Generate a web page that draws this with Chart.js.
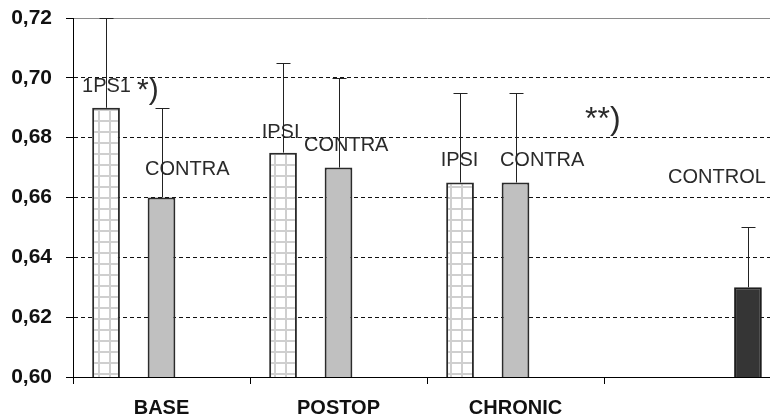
<!DOCTYPE html>
<html>
<head>
<meta charset="utf-8">
<script src="https://cdn.jsdelivr.net/npm/chart.js@4/dist/chart.umd.min.js"></script>
<style>
  html, body { margin: 0; padding: 0; background: #fff; overflow: hidden; width: 770px; height: 419px; }
  #wrap { position: relative; width: 781px; height: 419px; }
</style>
</head>
<body>
<div id="wrap"><canvas id="c"></canvas></div>
<script>
// Group means with their upper error (SD) per measurement period
const categories  = ['BASE', 'POSTOP', 'CHRONIC', ''];
const ipsiMean    = [0.69, 0.675, 0.665, null];
const ipsiSD      = [0.03, 0.03, 0.03, null];
const contraMean  = [0.66, 0.67, 0.665, null];
const contraSD    = [0.03, 0.03, 0.03, null];
const controlMean = [null, null, null, 0.63];
const controlSD   = [null, null, null, 0.02];

// Value axis
const yMin = 0.60;
const yMax = 0.72;
const yStep = 0.02;

// Free text notes, placed in axis units (category index, value) at the text baseline
const notes = [
  { text: '1PS1',    x: -0.449, y: 0.6953, size: 20 },
  { text: '*)',      x: -0.138, y: 0.6929, size: 30 },
  { text: 'CONTRA',  x: -0.093, y: 0.6675, size: 20 },
  { text: 'IPSI',    x:  0.566, y: 0.6799, size: 20 },
  { text: 'CONTRA',  x:  0.805, y: 0.6755, size: 20 },
  { text: 'IPSI',    x:  1.577, y: 0.6704, size: 20 },
  { text: 'CONTRA',  x:  1.912, y: 0.6704, size: 20 },
  { text: '**)',     x:  2.393, y: 0.6829, size: 32 },
  { text: 'CONTROL', x:  2.862, y: 0.6648, size: 20 }
];

const FONT = '"Liberation Sans", Arial, Helvetica, sans-serif';

// Light grid hatch used for the ipsilateral bars
function gridPattern() {
  const p = document.createElement('canvas');
  p.width = 11; p.height = 11;
  const g = p.getContext('2d');
  g.fillStyle = '#ffffff';
  g.fillRect(0, 0, 11, 11);
  g.fillStyle = '#cfcfcf';
  g.fillRect(0, 0, 1, 11);
  g.fillRect(10, 0, 1, 11);
  g.fillRect(0, 0, 11, 1);
  g.fillRect(0, 10, 11, 1);
  return document.getElementById('c').getContext('2d').createPattern(p, 'repeat');
}

// Text notes and one-sided error bars drawn over the bars
const overlay = {
  id: 'overlay',
  afterDatasetsDraw(chart) {
    const { ctx, scales: { x, y } } = chart;
    ctx.save();
    ctx.fillStyle = '#2a2a2a';
    ctx.textAlign = 'left';
    ctx.textBaseline = 'alphabetic';
    notes.forEach(n => {
      ctx.font = `${n.size}px ${FONT}`;
      ctx.fillText(n.text, x.getPixelForValue(n.x), y.getPixelForValue(n.y));
    });

    ctx.strokeStyle = '#222';
    ctx.lineWidth = 1;
    chart.data.datasets.forEach((ds, di) => {
      const meta = chart.getDatasetMeta(di);
      meta.data.forEach((bar, i) => {
        const v = ds.data[i], e = ds.errors[i];
        if (v == null || e == null) return;
        const cx = Math.round(bar.x) + 0.5;
        const yTop = Math.round(y.getPixelForValue(v + e)) + 0.5;
        ctx.beginPath();
        ctx.moveTo(cx, bar.y);
        ctx.lineTo(cx, yTop);
        ctx.moveTo(cx - 7, yTop);
        ctx.lineTo(cx + 7, yTop);
        ctx.stroke();
      });
    });
    ctx.restore();
  }
};

const isTop = c => c.tick && Math.abs(c.tick.value - yMax) < 1e-6;

new Chart(document.getElementById('c'), {
  type: 'bar',
  data: {
    labels: categories,
    datasets: [
      { label: 'IPSI', data: ipsiMean, errors: ipsiSD,
        backgroundColor: gridPattern(), borderColor: '#2b2b2b', borderWidth: 2 },
      { label: 'CONTRA', data: contraMean, errors: contraSD,
        backgroundColor: '#c0c0c0', borderColor: '#2b2b2b', borderWidth: 2 },
      { label: 'CONTROL', data: controlMean, errors: controlSD,
        backgroundColor: '#353535', borderColor: '#1e1e1e', borderWidth: 2 }
    ]
  },
  options: {
    responsive: true,
    maintainAspectRatio: false,
    animation: false,
    categoryPercentage: 0.94,
    barPercentage: 0.5,
    layout: { padding: { top: 18, left: 0, right: 0, bottom: 0 } },
    plugins: { legend: { display: false }, tooltip: { enabled: false } },
    scales: {
      x: {
        offset: true,
        grid: { offset: true, drawOnChartArea: false, drawTicks: true, tickLength: 7,
                color: '#000', tickColor: '#000' },
        border: { display: true, color: '#000', width: 1 },
        ticks: { padding: 12, color: '#111', maxRotation: 0, autoSkip: false,
                 font: { family: FONT, size: 20, weight: 'bold' } },
        afterFit(s) { s.height = 42; s.paddingLeft = 0; s.paddingRight = 0; }
      },
      y: {
        min: yMin,
        max: yMax,
        ticks: { stepSize: yStep, padding: 14, color: '#111',
                 font: { family: FONT, size: 21, weight: 'bold' },
                 callback: v => v.toFixed(2).replace('.', ',') },
        grid: { color: c => isTop(c) ? '#8a8a8a' : '#111', lineWidth: 1,
                tickLength: 7, tickColor: '#000', tickBorderDash: [] },
        border: { display: true, color: '#000', width: 1,
                  dash: c => isTop(c) ? [] : [4, 3] },
        afterFit(s) { s.width = 73; s.paddingTop = 0; s.paddingBottom = 0; }
      }
    }
  },
  plugins: [overlay]
});
</script>
</body>
</html>
